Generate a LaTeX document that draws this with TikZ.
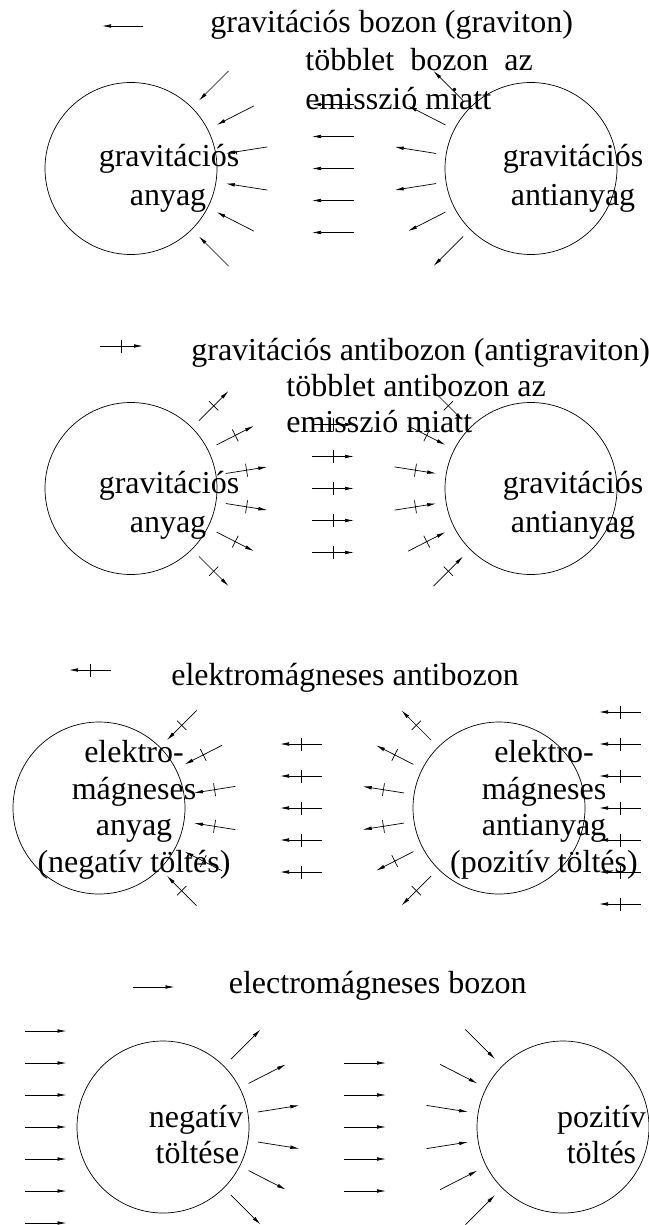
\documentclass[tikz,border=0pt]{standalone}
\usepackage{fontspec}
\setmainfont{Liberation Serif}
\usetikzlibrary{arrows.meta,calc}
\newcommand{\crossed}[2]{\draw[->] #1 -- #2; \draw ($#1!0.5!#2!6.5pt!90:#2$) -- ($#1!0.5!#2!6.5pt!-90:#2$);}
\begin{document}
\begin{tikzpicture}[x=1pt,y=-1pt, line width=0.7pt, >={Latex[length=9pt,width=3.6pt]},
  ball/.style={draw,circle,minimum size=172pt,inner sep=0pt},
  txt/.style={inner sep=0pt,font=\fontsize{32}{38}\selectfont}]
\useasboundingbox (0,0) rectangle (648,1225);

% ---------------- Panel 1 ----------------
\coordinate (k1a) at (143,26); \coordinate (k1b) at (102,26);
\draw[->] (k1a) -- (k1b);
\node[txt,anchor=base west] (t1) at (210,33) {gravitációs bozon (graviton)};
\node[txt,anchor=base west] (e1a) at (305,71) {többlet\ \ bozon\ \ az};
\node[txt,anchor=base west] (e1b) at (305,110) {emisszió miatt};
\node[ball] (c1l) at (131,168.5) {};
\node[ball] (c1r) at (531,168.5) {};
\node[txt,anchor=base] (g1l) at (169,167) {gravitációs};
\node[txt,anchor=base] (a1l) at (168,205) {anyag};
\node[txt,anchor=base] (g1r) at (573,167) {gravitációs};
\node[txt,anchor=base] (a1r) at (573,205) {antianyag};
\foreach \a in {45,27,9,-9,-27,-45}{
  \draw[->] ($(c1l.center)+(\a:138)$) -- ($(c1l.center)+(\a:96)$);
  \draw[->] ($(c1r.center)+({180-\a}:96)$) -- ($(c1r.center)+({180-\a}:138)$);
}
\foreach \d in {-64,-32,0,32,64}{
  \draw[->] ($(c1l.center)+(223,\d)$) -- ($(c1l.center)+(181,\d)$);
}

% ---------------- Panel 2 ----------------
\coordinate (k2a) at (100,346); \coordinate (k2b) at (143,346);
\crossed{(k2a)}{(k2b)}
\node[txt,anchor=base west] (t2) at (191,360) {gravitációs antibozon (antigraviton)};
\node[txt,anchor=base west] (e2a) at (286,396) {többlet antibozon az};
\node[txt,anchor=base west] (e2b) at (286,432) {emisszió miatt};
\node[ball] (c2l) at (131,488.5) {};
\node[ball] (c2r) at (531,488.5) {};
\node[txt,anchor=base] (g2l) at (169,493) {gravitációs};
\node[txt,anchor=base] (a2l) at (168,532) {anyag};
\node[txt,anchor=base] (g2r) at (573,493) {gravitációs};
\node[txt,anchor=base] (a2r) at (573,532) {antianyag};
\foreach \a in {45,27,9,-9,-27,-45}{
  \coordinate (p) at ($(c2l.center)+(\a:96)$);
  \coordinate (q) at ($(c2l.center)+(\a:138)$);
  \crossed{(p)}{(q)}
  \coordinate (r) at ($(c2r.center)+({180-\a}:138)$);
  \coordinate (s) at ($(c2r.center)+({180-\a}:96)$);
  \crossed{(r)}{(s)}
}
\foreach \d in {-64,-32,0,32,64}{
  \coordinate (p) at ($(c2l.center)+(181,\d)$);
  \coordinate (q) at ($(c2l.center)+(223,\d)$);
  \crossed{(p)}{(q)}
}

% ---------------- Panel 3 ----------------
\coordinate (k3a) at (111,670); \coordinate (k3b) at (69,670);
\crossed{(k3a)}{(k3b)}
\node[txt,anchor=base west] (t3) at (171,685) {elektromágneses antibozon};
\node[ball] (c3l) at (99,808) {};
\node[ball] (c3r) at (499,808) {};
\node[txt,anchor=base] (m3la) at (134,762) {elektro-};
\node[txt,anchor=base] (m3lb) at (134,799) {mágneses};
\node[txt,anchor=base] (m3lc) at (134,835) {anyag};
\node[txt,anchor=base] (m3ld) at (134,872) {(negatív töltés)};
\node[txt,anchor=base] (m3ra) at (544,762) {elektro-};
\node[txt,anchor=base] (m3rb) at (544,799) {mágneses};
\node[txt,anchor=base] (m3rc) at (544,835) {antianyag};
\node[txt,anchor=base] (m3rd) at (544,872) {(pozitív töltés)};
\foreach \a in {45,27,9,-9,-27,-45}{
  \coordinate (p) at ($(c3l.center)+(\a:138)$);
  \coordinate (q) at ($(c3l.center)+(\a:96)$);
  \crossed{(p)}{(q)}
  \coordinate (r) at ($(c3r.center)+({180-\a}:96)$);
  \coordinate (s) at ($(c3r.center)+({180-\a}:138)$);
  \crossed{(r)}{(s)}
}
\foreach \d in {-64,-32,0,32,64}{
  \coordinate (p) at ($(c3l.center)+(223,\d)$);
  \coordinate (q) at ($(c3l.center)+(181,\d)$);
  \crossed{(p)}{(q)}
}
\foreach \d in {-96,-64,-32,0,32,64,96}{
  \coordinate (p) at ($(c3r.center)+(142,\d)$);
  \coordinate (q) at ($(c3r.center)+(100,\d)$);
  \crossed{(p)}{(q)}
}

% ---------------- Panel 4 ----------------
\coordinate (k4a) at (133,987); \coordinate (k4b) at (174.5,987);
\draw[->] (k4a) -- (k4b);
\node[txt,anchor=base west] (t4) at (228.5,993) {electromágneses bozon};
\node[ball] (c4l) at (163,1127) {};
\node[ball] (c4r) at (563,1127) {};
\node[txt,anchor=base] (n4a) at (196,1127) {negatív};
\node[txt,anchor=base] (n4b) at (197.5,1163) {töltése};
\node[txt,anchor=base] (p4a) at (601.5,1127) {pozitív};
\node[txt,anchor=base] (p4b) at (601.5,1163) {töltés};
\foreach \a in {45,27,9,-9,-27,-45}{
  \draw[->] ($(c4l.center)+(\a:96)$) -- ($(c4l.center)+(\a:138)$);
  \draw[->] ($(c4r.center)+({180-\a}:138)$) -- ($(c4r.center)+({180-\a}:96)$);
}
\foreach \d in {-64,-32,0,32,64}{
  \draw[->] ($(c4l.center)+(181,\d)$) -- ($(c4l.center)+(223,\d)$);
}
\foreach \d in {-96,-64,-32,0,32,64,96}{
  \draw[->] ($(c4l.center)+(-138,\d)$) -- ($(c4l.center)+(-96.5,\d)$);
}
\end{tikzpicture}
\end{document}
